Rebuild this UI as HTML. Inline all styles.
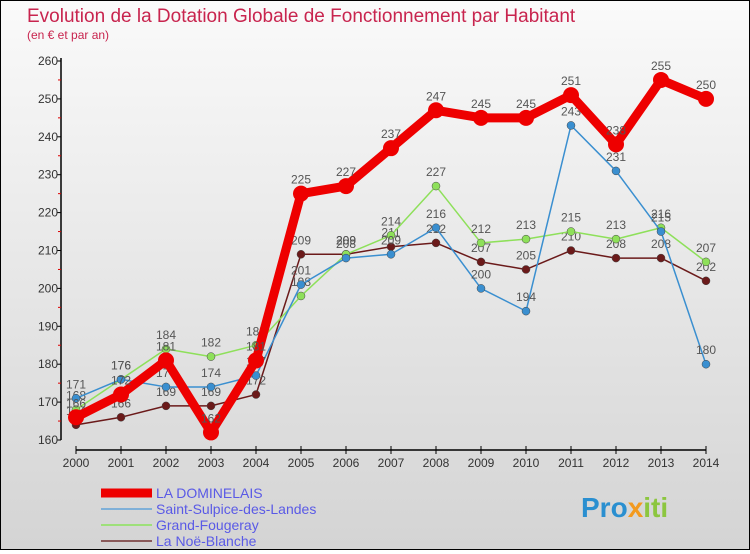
<!DOCTYPE html>
<html><head><meta charset="utf-8"><style>
body{margin:0;width:750px;height:550px;overflow:hidden;font-family:"Liberation Sans",sans-serif}
#wrap{position:relative;width:748px;height:548px;border:1px solid #000;background:linear-gradient(#fafafa,#d4d4d4)}
</style></head><body>
<div id="wrap">
<svg id="c" width="748" height="548" xmlns="http://www.w3.org/2000/svg">
<text x="26" y="21" font-size="19" fill="#c8244e">Evolution de la Dotation Globale de Fonctionnement par Habitant</text>
<text x="26" y="38" font-size="12" fill="#c8244e">(en € et par an)</text>
<g id="axes"></g><g id="series"></g><g id="legend"></g>
<text x="580" y="516" font-size="28" font-weight="bold" fill="#2a8fd0">Pro<tspan fill="#f39a1e">x</tspan><tspan fill="#8cc63f">iti</tspan></text>
</svg></div>
<script>
const years=[2000,2001,2002,2003,2004,2005,2006,2007,2008,2009,2010,2011,2012,2013,2014];
const dominelais=[166,172,181,162,181,225,227,237,247,245,245,251,238,255,250];
const sulpice=[171,176,174,174,177,201,208,209,216,200,194,243,231,215,180];
const fougeray=[168,176,184,182,185,198,209,214,227,212,213,215,213,216,207];
const noe=[164,166,169,169,172,209,209,211,212,207,205,210,208,208,202];
const yTicks=[160,170,180,190,200,210,220,230,240,250,260];
const names=["LA DOMINELAIS","Saint-Sulpice-des-Landes","Grand-Fougeray","La Noë-Blanche"];
const NS="http://www.w3.org/2000/svg";
const X=i=>75+i*45, Y=v=>439-(v-160)*3.79;
function mk(t,a,p){const e=document.createElementNS(NS,t);for(const k in a)e.setAttribute(k,a[k]);p.appendChild(e);return e;}
const ax=document.getElementById('axes');
mk('line',{x1:60,y1:Y(260)-3,x2:60,y2:Y(160),stroke:'#000','stroke-width':1.5},ax);
mk('line',{x1:X(0),y1:449,x2:X(14),y2:449,stroke:'#000','stroke-width':1.5},ax);
yTicks.forEach(v=>{
 mk('line',{x1:56,y1:Y(v),x2:60,y2:Y(v),stroke:'#000'},ax);
 if(v<260)mk('line',{x1:57,y1:Y(v+5),x2:60,y2:Y(v+5),stroke:'#d00'},ax);
 const t=mk('text',{x:57,y:Y(v)+4,'font-size':12,fill:'#333','text-anchor':'end'},ax);
 
 
 t.textContent=v;});
years.forEach((y,i)=>{
 mk('line',{x1:X(i),y1:445,x2:X(i),y2:453,stroke:'#000'},ax);
 const t=mk('text',{x:X(i),y:466,'font-size':12,fill:'#333','text-anchor':'middle'},ax);
 
 
 t.textContent=y;});
const sg=document.getElementById('series');
const defs=[[noe,'#6b1a1a',1.5,4,'series-la-noe-blanche'],[fougeray,'#8ee05a',1.5,4,'series-grand-fougeray'],[sulpice,'#3a8fd0',1.5,4,'series-saint-sulpice'],[dominelais,'#ee0000',9,8,'series-la-dominelais']];
defs.forEach(([d,c,w,r,n])=>{
 const g=mk('g',{},sg);
 
 
 const p=mk('polyline',{points:d.map((v,i)=>X(i)+','+Y(v)).join(' '),fill:'none',stroke:c,'stroke-width':w,'stroke-linejoin':'round'},g);
 
 
 d.forEach((v,i)=>{
  const pt=mk('circle',{cx:X(i),cy:Y(v),r:r,fill:c,stroke:w>2?'none':'#444','stroke-width':0.5},g);
  
  
  const t=mk('text',{x:X(i),y:Y(v)-10,'font-size':12,fill:'#555','text-anchor':'middle'},g);
  
  
  t.textContent=v;});
});
const lg=document.getElementById('legend');
const lc=['#ee0000','#7fb0d8','#9ee07a','#8a5a5a'],lw=[9,2,2,2];
names.forEach((n,i)=>{
 const yy=492+i*16;
 const e=mk('g',{},lg);
 
 
 mk('line',{x1:100,y1:yy,x2:151,y2:yy,stroke:lc[i],'stroke-width':lw[i]},e);
 const t=mk('text',{x:155,y:yy+5,'font-size':14,fill:'#5a5ae6'},e);
 t.textContent=n;});
</script>
</body></html>
